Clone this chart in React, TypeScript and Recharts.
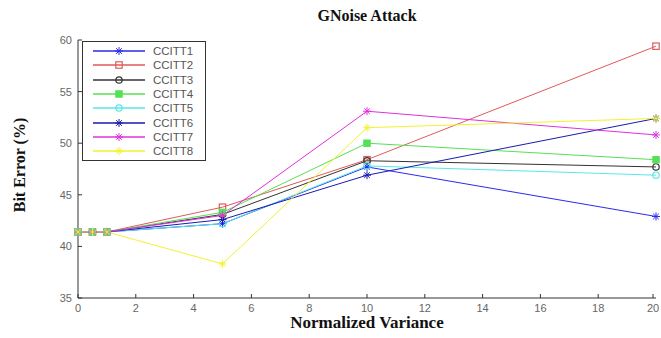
import React from 'react';
import { LineChart, Line, XAxis, YAxis, Legend } from 'recharts';

// x positions (normalized variance)
const variance = [0, 0.5, 1, 5, 10, 20];

// bit error (%) per scheme
const ccitt1 = [41.4, 41.4, 41.4, 42.2, 47.7, 42.9];
const ccitt2 = [41.4, 41.4, 41.4, 43.8, 48.4, 59.4];
const ccitt3 = [41.4, 41.4, 41.4, 43.1, 48.3, 47.7];
const ccitt4 = [41.4, 41.4, 41.4, 43.3, 50.0, 48.4];
const ccitt5 = [41.4, 41.4, 41.4, 42.2, 47.8, 46.9];
const ccitt6 = [41.4, 41.4, 41.4, 42.6, 46.9, 52.4];
const ccitt7 = [41.4, 41.4, 41.4, 43.0, 53.1, 50.8];
const ccitt8 = [41.4, 41.4, 41.4, 38.3, 51.5, 52.4];

const xTicks = [0, 2, 4, 6, 8, 10, 12, 14, 16, 18, 20];
const yTicks = [35, 40, 45, 50, 55, 60];

const series = [
  { key: 'CCITT1', values: ccitt1, color: '#2a2aee', marker: 'star' },
  { key: 'CCITT2', values: ccitt2, color: '#e05a5a', marker: 'square' },
  { key: 'CCITT3', values: ccitt3, color: '#333333', marker: 'circle' },
  { key: 'CCITT4', values: ccitt4, color: '#55e055', marker: 'fill' },
  { key: 'CCITT5', values: ccitt5, color: '#55e8e8', marker: 'circle' },
  { key: 'CCITT6', values: ccitt6, color: '#1a1ab0', marker: 'star' },
  { key: 'CCITT7', values: ccitt7, color: '#e030e0', marker: 'star' },
  { key: 'CCITT8', values: ccitt8, color: '#f2f230', marker: 'star' },
];

const data = variance.map((v, i) => {
  const row: any = { x: v };
  series.forEach((s) => (row[s.key] = s.values[i]));
  return row;
});

const TM = 6;
const tickFont = { fontFamily: 'Liberation Sans, Arial', fontSize: 11, fill: '#666' };
const serifBold = { fontFamily: 'Liberation Serif, Times New Roman', fontWeight: 'bold' as const, color: '#111' };

function Marker({ cx, cy, kind, color }: any) {
  const r = 3.2;
  if (kind === 'square')
    return <rect x={cx - r} y={cy - r} width={r * 2} height={r * 2} fill="none" stroke={color} strokeWidth={1.2} />;
  if (kind === 'circle')
    return <circle cx={cx} cy={cy} r={r} fill="none" stroke={color} strokeWidth={1.2} />;
  if (kind === 'fill')
    return <rect x={cx - r} y={cy - r} width={r * 2} height={r * 2} fill={color} stroke={color} />;
  return (
    <g stroke={color} strokeWidth={1}>
      <line x1={cx - 4} x2={cx + 4} y1={cy} y2={cy} />
      <line x1={cx} x2={cx} y1={cy - 4} y2={cy + 4} />
      <line x1={cx - 2.8} x2={cx + 2.8} y1={cy - 2.8} y2={cy + 2.8} />
      <line x1={cx - 2.8} x2={cx + 2.8} y1={cy + 2.8} y2={cy - 2.8} />
    </g>
  );
}

const BottomTick = (p: any) => (
  <g>
    <line x1={p.x} x2={p.x} y1={p.y - TM} y2={p.y - TM - 4} stroke="#333" />
    <text x={p.x} y={p.y} dy="0.71em" textAnchor="middle" {...tickFont}>{p.payload.value}</text>
  </g>
);
const TopTick = (p: any) => (
  <line x1={p.x} x2={p.x} y1={p.y + TM} y2={p.y + TM + 4} stroke="#333" />
);
const LeftTick = (p: any) => (
  <g>
    <line x1={p.x + TM} x2={p.x + TM + 4} y1={p.y} y2={p.y} stroke="#333" />
    <text x={p.x} y={p.y} dy="0.355em" textAnchor="end" {...tickFont}>{p.payload.value}</text>
  </g>
);
const RightTick = (p: any) => (
  <line x1={p.x - TM} x2={p.x - TM - 4} y1={p.y} y2={p.y} stroke="#333" />
);

const LegendBox = () => (
  <div style={{ border: '1px solid #333', background: '#fff', padding: '2px 0', width: 122 }}>
    {series.map((s) => (
      <div key={s.key} style={{ display: 'flex', alignItems: 'center', height: 14.3 }}>
        <svg width={62} height={12}>
          <line x1={10} x2={62} y1={6} y2={6} stroke={s.color} strokeWidth={1.5} />
          <Marker cx={36} cy={6} kind={s.marker} color={s.color} />
        </svg>
        <span style={{ fontFamily: 'Liberation Sans, Arial', fontSize: 11.5, color: '#555', marginLeft: 8 }}>{s.key}</span>
      </div>
    ))}
  </div>
);

export default function App() {
  return (
    <div style={{ position: 'absolute', left: 0, top: 0, width: 661, height: 338, background: '#fff' }}>
      <LineChart width={661} height={338} data={data} margin={{ top: 40, right: 5, bottom: 0, left: 30 }}>
        <XAxis dataKey="x" type="number" domain={[0, 20]} ticks={xTicks} height={40}
          axisLine={{ stroke: '#333' }} tickLine={false} tickSize={0} tickMargin={TM} tick={BottomTick} />
        <XAxis xAxisId="top" orientation="top" dataKey="x" type="number" domain={[0, 20]} ticks={xTicks} height={0}
          axisLine={{ stroke: '#333' }} tickLine={false} tickSize={0} tickMargin={TM} tick={TopTick} />
        <YAxis domain={[35, 60]} ticks={yTicks} width={48} axisLine={{ stroke: '#333' }}
          tickLine={false} tickSize={0} tickMargin={TM} tick={LeftTick} />
        <YAxis yAxisId="right" orientation="right" domain={[35, 60]} ticks={yTicks} width={0}
          axisLine={{ stroke: '#333' }} tickLine={false} tickSize={0} tickMargin={TM} tick={RightTick} />
        <Legend layout="vertical" align="center" verticalAlign="middle" content={LegendBox}
          wrapperStyle={{ left: 82, top: 41, width: 124 }} />
        {series.map((s) => (
          <Line key={s.key} dataKey={s.key} stroke={s.color} strokeWidth={1} isAnimationActive={false}
            dot={(p: any) => <Marker key={`${s.key}-${p.index}`} cx={p.cx} cy={p.cy} kind={s.marker} color={s.color} />}
            activeDot={false} />
        ))}
      </LineChart>
      <div style={{ ...serifBold, position: 'absolute', left: 0, width: 734, top: 7, textAlign: 'center', fontSize: 16 }}>
        GNoise Attack
      </div>
      <div style={{ ...serifBold, position: 'absolute', left: 0, width: 734, top: 313, textAlign: 'center', fontSize: 17 }}>
        Normalized Variance
      </div>
      <div style={{ ...serifBold, position: 'absolute', left: 20, top: 165, fontSize: 16, whiteSpace: 'nowrap',
        transform: 'translate(-50%, -50%) rotate(-90deg)' }}>
        Bit Error (%)
      </div>
    </div>
  );
}
